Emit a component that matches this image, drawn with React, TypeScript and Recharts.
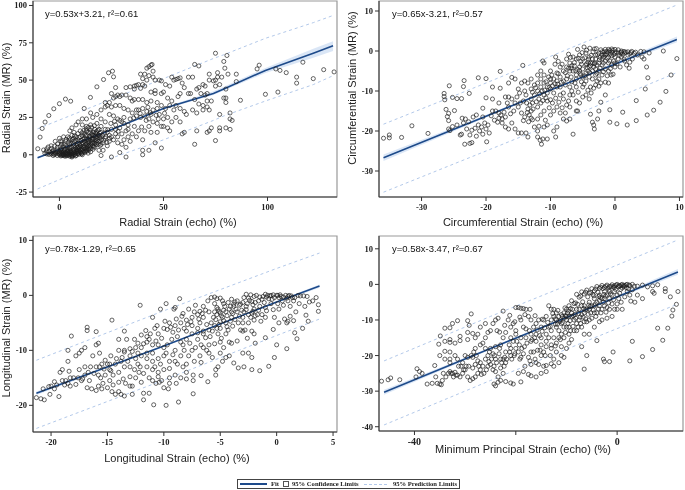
import { Area, ComposedChart, Line, ReferenceArea, Scatter, XAxis, YAxis } from "recharts";

type Pair = [number, number];

const radialPoints: Pair[] = [
  [-10.4,4],[-9.3,11.8],[-8.3,17.6],[-6.9,21.9],[-5.1,26.3],[-2.7,30.8],[0,34.2],[2.9,37.3],[5.4,35.9],[11.9,31],[14.9,38.4],[18,45.5],[21.2,50.4],[23.6,54.9],[25.5,56],[26,52.2],
  [32,45],[34,45.5],[36,46],[37,46.5],[38,47],[40,47],[41,46],[39,44.5],[36,44],[40,51],[39,54],[41,54],[43,53],[45,52],[42,58],[43,59],[44,60],[44.5,60.5],[45,56],[48,50],[49,49.5],[51,47],[53,46],[54,52],[55,50],[56,50.5],[57,51],[58,51.5],[46,50],[42,50],
  [27,45],[28,40],[30,40],[32,40],[34,38],[36,37],[38,37],[40,37],[25,41],[26,38],[27,39],[29,39],[22,35],[23,33],[24,35],[20,30],[22,32],[25,32],[27,33],[29,33],[31,31],[33,30],[35,28],[37,30],[35,36],[42,35],[44,42],[46,43],[46,41],[49,41],[50,42],[44,36],[47,35],
  [65,60.5],[67,59.5],[75,68],[80.5,66.5],[79,62.5],[79.5,58],[72,54],[76,55],[76,52],[78,52],[81,54],[85,54],[85,49],[75,50],[74,49.5],[72,50],[69,47],[70,46],[67,45],[64,52],[62,52],[59,48],[60,45],[58,41],[57,39],[63,41],[62,41],[66,44],[71,41],[68,41],[70,40],[75,46],[77,47],[80,44],[79,38],[80,38],[80,35],[87,36.5],[82,28],[82,24],[83,23],[80,18],[82,17],[77,18],[77,16],[75,9.5],[73,18],[72,16],[71,15],[65,7],[66,16],[60,15],[59,14],[53,16],[52,18],[50,19],[49,4.5],[47,15],[46,8],[43,3],[40,3],[40,0],[32,5],[32,-1.5],[29,1.5],[25,-1.5],[20,-0.5],
  [95,57.5],[96,60],[104,57.5],[106,56.5],[109,55],[117,62],[114,52],[114,48],[122,51],[127,57],[132,55.5],[99,40.5],[105,42],
  [73,36],[71,36],[69,33],[67,34],[65,37],[64,30],[66,28],[69,30],[71,32],[72,30],[77,27],[61,27],[60,29],[58,31],[56,33],[54,36],[52,38],[53,33],[55,30],[51,31],[49,33],[47,31],[48,27],[50,24],[52,25],[54,22],[56,25],[58,22],[45,30],[44,27],[42,29],[40,31],[38,30],[37,26],[39,25],[41,26],[43,24],[45,22],[47,21],[49,19],[43,19],[41,16],[44,15],[40,10],[37,12],[35,14],[33,12],[31,10],[34,9],[30,7],[36,19],[33,20],[30,22],[28,24],[26,26],[24,27],[22,22],[20,24],[18,27],[16,25],[15,28],[13,24],[11,24],
  [34,24],[31,25],[29,18],[27,20],[25,17],[27,14],[24,13],[22,17],[20,19],[18,21],[17,17],[15,20],[13,19],[11,20],[9,22],[8,20],[6,18],[5,16],[7,15],[10,16],[12,14],[14,15],[16,13],[18,14],[20,12],[22,11],[24,9],[26,10],[28,8],[23,6],[20,7],[18,8],[16,9],[14,10],[12,11],[10,12],[8,12],[6,13],[4,12],[2,12],[0,11],[-2,9],[-4,6],[-6,4],[-5,2],[-3,3],[-1,5],[1,7],[3,9],[5,10],[7,9],[9,8],[11,8],[13,7],[15,6],[17,5],[19,3],[21,3],[15,2],[13,3],[11,4],[9,5],[7,6],[5,7],[3,6],[1,4],[-1,2],[-3,1],[-7,1],[-6,0.5],[-5,0.2],[-4,0.5],[-3,-0.5],[-2,0.5],[-1,-0.5],[0,0],[1,0.5],[2,-0.5],[3,0],[4,0.5],[5,-1],[6,-1.5],[7,0],[8,1],[9,1],[10,2],[11,0],[6,2],[4,2.5],[2,2.5],[0,2],[-2,2],[3,1.5],[5,4],[7,3],[9,3],[12,6],[14,4],[16,6],[17,10],[19,9],[21,8],[15,12],[13,13],[11,13],[9,10],[7,11],[5,5],[3,4],[1,2],[12,9],[10,6],[8,4],[6,5],[14,8],[18,11],[16,11],[20,15],[15,15],[13,16],[19,17],[23,15],[25,12],[28,12],[30,14],[32,16],[38,16],
];
const radialDense: Pair[] = [
  [-4.2,1.3],[-3.4,2.2],[-2.6,0.2],[-1.8,1.1],[-1.2,3.2],[-0.6,0.9],[0.3,1.2],[0.7,-0.8],[1.3,1.6],[1.8,0.3],[2.4,3.4],[2.7,-1],[3.3,0.7],[3.7,2.6],[4.3,-0.4],[4.6,1.5],[5.2,0.4],[5.5,2.9],[5.9,-0.6],[6.4,0.8],[6.8,3.6],[7.3,1.4],[7.7,-0.8],[8.3,2.1],[8.7,4.6],[9.3,0.3],[9.6,2.7],[10.2,3.6],[10.7,1],[11.2,5.2],[11.6,2.5],[12.3,3.9],[12.7,7.4],[13.3,5.2],[13.8,1.1],[14.3,6.2],[14.7,9.2],[15.3,7.4],[15.7,10.3],[16.2,3.7],[16.6,8.1],[17.2,12.3],[17.7,6.8],[18.2,9.6],[18.7,13.1],[19.3,11.2],[19.6,6.2],[20.2,10.1],[20.7,13.2],[21.3,9.7],[21.7,14.4],[22.3,12.1],[22.8,8.2],[23.2,16.8],[24.1,11],[0.4,5.4],[1.2,8.6],[1.7,5.3],[2.3,7.2],[3.2,10.3],[3.8,5.1],[4.4,8.4],[4.8,11.3],[5.6,7.9],[6.2,10.2],[6.7,7.3],[7.2,12.6],[7.8,9.6],[8.4,6.2],[8.9,14.2],[9.4,11.4],[9.8,7.1],[10.4,9.6],[10.9,14.8],[11.4,10.2],[11.8,16.4],[12.4,12.7],[12.9,17.4],[13.5,10.3],[13.9,18.3],[14.4,12.4],[14.8,16.6],[15.5,18.4],[16.3,15.2],[16.8,19.5],[17.4,14.4],[18.4,16.3],[19.4,14.4],[0.8,3.4],[1.5,-0.2],[2.1,1.4],[3.5,-0.7],[4.1,3.7],[4.9,2.2],[5.8,1.1],[6.6,-0.2],[7.5,4.8],[8.1,-0.4],[9.1,2],[10.6,0.5],[12.1,1.5],[13.1,2.3],[14.1,3],[-3.8,4.2],[-2.2,5.8],[-0.9,7.3],[0.6,9.3],[-6.3,2.4],[-7.6,3.2],[-5.4,5.2],[31,21],[29,23],[27,17],[33,17],[24.7,21],[26.5,22.4],[28.2,15.7],[35.7,24.6],[39.5,18.6],[41.7,23],[42.5,31.8],[46.5,26.4],[47.5,24],[50.5,27.8],[43.6,28.2],[38.8,27.7],
  [0.2,0.6],[1,-0.4],[1.6,0.8],[2.2,-0.1],[2.9,1],[3.4,-0.2],[4,1.2],[4.7,0.2],[5.3,1.8],[5.7,0.2],[6.1,-0.9],[6.9,1.9],[7.4,0.3],[8.2,3.1],[8.8,0.9],[9.5,4.2],[10.1,1.3],[10.8,3.2],[11.3,1.8],[11.9,4.6],[12.5,2.4],[13.2,4.1],[13.7,6.1],[14.5,5],[15.1,4.1],[15.8,7.9],[16.4,5.2],[17,7.6],[17.6,9.2],[18.1,12.4],[18.8,7.1],[19.2,12.8],[8.5,7.4],[9.9,5.1],[10.9,6.9],[11.7,7.6],[12.8,10.6],[13.6,8.8],[14.6,11.1],[15.6,13.7],[16.7,12.9],[17.8,15.6],
];
const radialFit = [
  { x: -10.5, fit: -2, band: [-2.6, -1.4], upper: 17.4, lower: -22.9 },
  { x: 21, fit: 14.5, band: [14, 15], upper: 35, lower: -4.2 },
  { x: 50, fit: 31, band: [30.3, 31.7], upper: 51, lower: 10 },
  { x: 74, fit: 41, band: [40, 42.5], upper: 64.5, lower: 23 },
  { x: 79, fit: 44, band: [43, 45.5], upper: 67, lower: 26 },
  { x: 99, fit: 56.5, band: [54.8, 58.2], upper: 78, lower: 36 },
  { x: 122, fit: 68, band: [65, 71], upper: 88.5, lower: 47 },
  { x: 131.5, fit: 73, band: [69.5, 76], upper: 93.3, lower: 53 },
];

const circPoints: Pair[] = [
  [-35.9,-21.8],[-35,-21],[-35,-21.7],[-33.1,-21.6],[-31.5,-18.7],[-29,-20.6],[-26.5,-10.6],[-26.5,-11.4],[-26.4,-12.2],[-25.7,-8.7],[-25.2,-11.6],[-24.5,-11.9],[-23.8,-11.9],[-23.4,-7.4],[-23.5,-8.9],[-22.6,-10.6],[-21.2,-6.7],[-20,-6.9],[-19,-9],[-17.8,-9.3],[-17.8,-5.1],[-14.3,-3.6],[-16,-6.6],[-16.5,-8],[-26.2,-14.6],[-25.8,-15.6],[-26,-16.4],[-24.9,-14.9],[-25.8,-17.4],[-25.8,-19.5],[-25.6,-19.9],[-25.2,-18.9],[-24.5,-18.5],[-24,-21],[-23.8,-20.8],[-23.3,-23.3],[-22.5,-23.1],[-22.2,-22.9],[-19.9,-22.7],[-23,-19.5],[-22.5,-21],[-21.5,-21.3],[-21,-20],[-20.5,-20.8],[-20,-19.5],[-19.5,-20.5],[-23.7,-16.8],[-23.5,-18],[-22,-16.5],[-21.5,-16],[-20.5,-16.5],[-20,-11.7],[-20.5,-14.3],[-19,-15],[-18.5,-15],[-18,-13],[-17,-11.5],[-16.5,-11.5],[-16,-12],[-15,-9.5],[-14.5,-8],[-15.5,-7],[-14,-7.5],[-13,-7],[-18,-16.8],[-17.5,-17],[-17,-16.5],[-17.5,-18],[-17,-19],[-16.5,-19.5],[-16,-18],[-15.5,-19.5],[-15,-20.5],[-14.5,-20.5],[-13.5,-21.5],[-13.8,-20.5],[-12.5,-19],[-12,-20],[-11.6,-22.3],[-11.4,-23.3],[-11.2,-22],[-10.5,-22],[-12,-21.5],[-11,-19],[-10.5,-18.5],[-9.2,-21.5],[-9,-19],[-9.5,-20],[-10,-16],[-9.5,-15],[-8.5,-15.5],[-9,-14],[-8,-17],[-7.5,-17.5],[-7,-17],
  [-19,-12],[-18,-15.5],[-16.5,-14],[-15.5,-13],[-15,-14],[-14.5,-15.5],[-14,-16.5],[-13.5,-14.5],[-13,-15],[-13.3,-16],[-12.8,-13],[-13,-12],[-13.8,-11],[-14.8,-10.5],[-14,-10],[-12.5,-11],[-12,-10],[-12,-14],[-11.5,-13],[-11,-15],[-11.5,-16],[-12,-17],[-10.5,-12.5],[-10,-12.2],[-9.5,-10.5],[-10,-9.5],[-10.5,-9],[-11,-8],[-11.5,-7],[-12,-6],[-11,-6],[-11.5,-5],[-11,-3],[-11.2,-2.5],[-10,-5],[-9,-5.5],[-9,-7.5],[-8.5,-9],[-8,-10.5],[-8,-12],[-7.5,-13.5],[-8.5,-11],[-7,-14],[-7,-11],[-7,-9],[-7.5,-7],[-8,-5],[-8.5,-4],[-9.2,-1.5],[-7.5,-2],[-7,-3],[-6.5,-5],[-6,-7],[-6,-9],[-6.5,-11],[-6,-12.5],[-5.8,-15],[-6,-15],[-5.5,-13],[-5,-11.5],[-5,-9],[-5.3,-6],[-5.5,-4],[-6,-2],[-6.5,-1.5],[-5.8,0.4],[-5.5,-1],[-5,-2],[-4.8,1],[-4.5,-0.5],[-4.5,-3.5],[-4.5,-5.5],[-4.5,-7.5],[-4.5,-11],[-4,-12],[-3.8,-9],[-4,-6.5],[-4,-4],[-4,-1.5],[-4.4,0.2],[-3.5,-5],[-3.5,-3],[-3.5,-7],[-3,-8.5],[-3,-6],[-3,-4.5],[-3,-2],[-3.2,0.5],[-2.5,-0.5],[-2.5,-3],[-2.5,-5],[-2.5,-7],[-2.5,-8.8],[-6.5,-20.8],[-3.8,-15.8],[-3.5,-17.8],[-3.3,-18.5],[-3.2,-19.5],[-2.7,-17],[-2.5,-15],[-2.2,-12.8],[-1.5,-11],[-1,-8],[-0.8,-14.7],[-0.8,-17.8],[0.3,-18.2],[1.2,-15.3],[1.9,-18.5],[3.3,-17.4],[3.3,-12.4],[4.7,-9.5],[5,-16],[5.1,-6.7],[6,-14.8],[7,-12.8],[7.9,-10.1],[8.7,-6],[9.6,-1.9],[7.5,0],[5.3,-0.5],[4.9,-4],[4.2,-1.5],[4.5,-2],
  [-2,-1],[-2,-3.5],[-2,-6],[-2,-0.2],[-1.5,0.4],[-1.5,-1],[-1.5,-2.5],[-1.5,-4.5],[-1.5,-7.8],[-1,-0.3],[-1,0.4],[-1,-1.5],[-1,-3],[-1,-5],[-0.6,-6],[-0.5,0.5],[-0.5,-0.3],[-0.5,-1.2],[-0.5,-3.5],[-0.3,-5.8],[0,0.4],[0,-0.5],[0,-1.5],[0,-3],[0,-4],[0.5,0.3],[0.5,-0.5],[0.5,-2],[0.8,-4],[1,-0.3],[1,0],[1,-1.5],[1.5,-0.5],[1.5,-2.5],[1.8,-3.5],[2,-0.2],[2,-1],[2.2,-4.3],[2.5,-0.4],[2.7,-2],[3,-0.6],[3.5,-1],[4,-0.1],[4.5,-0.2],
  [-7,-5],[-6.8,-6.5],[-6,-6],[-5.5,-5],[-5,-6.5],[-5,-4.5],[-4.2,-5],[-3.8,-3],[-3.5,-2],[-3,-1],[-7.5,-4],[-8,-7.5],[-8.5,-6.5],[-9,-9],[-9.5,-7],[-10,-8],[-10.5,-10.5],[-11,-11],[-11.5,-9],[-12.5,-8.5],[-13,-9.5],[-13.5,-8],[-12,-8],[-10,-7],[-2,-2],[-1.8,-1.5],[-1.2,-1.8],[-0.8,-2.5],[-2.8,-3.5],[-3.2,-3.2],[-4.2,-2.8],
];
const circDense: Pair[] = [
  [-6.3,-3.7],[-5.8,-4.6],[-5.2,-3.3],[-4.7,-6.2],[-4.3,-4.2],[-3.9,-5.4],[-3.3,-4],[-2.8,-5.6],[-2.3,-4.3],[-1.8,-3],[-1.3,-0.7],[-0.8,0.1],[-0.3,0.2],[0.2,-0.2],[0.7,-1.1],[1.2,-0.8],[1.7,-0.3],[2.3,-0.7],[-1.7,-0.2],[-2.3,-1.6],[-2.7,-0.9],[-3.4,-0.2],[-3.7,-1.1],[-4.1,-2.1],[-4.7,-1.7],[-5.3,-2.6],[-5.7,-1.8],[-6.3,-2.9],[-6.7,-3.7],[-7.2,-4.3],[-7.7,-5.4],[-8.2,-3.3],[-8.8,-5.7],[-9.3,-8.2],[-9.8,-6],[-10.3,-6.5],[-10.7,-7.7],[-11.3,-10],[-11.8,-12],[-12.2,-12.7],[-12.7,-14.5],[-13.2,-13.5],[-13.7,-13],[-14.2,-12.5],[-14.7,-13],[-15.2,-11.5],[-15.7,-15],[-16.2,-15.7],[-16.7,-13],[-17.2,-15.3],[-17.7,-16],[-18.2,-17.8],[-18.7,-17.3],[-19.2,-16.2],[-19.7,-18.5],[-20.2,-18],[-20.7,-19],[-21.2,-18.5],[-21.7,-19.3],[-22.2,-19.8],[-22.7,-17.7],[-23.2,-17],[-13,-16.8],[-13.4,-17.7],[-12.8,-17.2],[-13.6,-15.4],[-14.2,-17.4],[-11.8,-18.8],[-10.8,-17.3],[-10.2,-14.2],[-9.7,-13],[-9.2,-11.8],[-8.7,-12.8],[-8.2,-14.2],[-7.7,-15.5],[-7.2,-12.5],[-6.7,-10],[-6.2,-8],[-5.7,-10.3],[-5.2,-7.7],[-4.8,-8.3],[-4.2,-9.8],[-3.7,-10.5],[-3.3,-9.3],[-2.8,-7.5],[-2.2,-8],[-1.8,-5.2],[-1.2,-6.2],[-0.7,-4.4],[-0.2,-2.5],[0.3,-3.2],[1.4,-2],[2.3,-2.8],[-6.7,-7.7],[-7.7,-8.5],[-8.3,-7.8],[-9.7,-8.7],[-10.7,-11.7],[-11.2,-12.4],[-11.7,-10.7],[-12.3,-9.2],[-12.8,-10.3],[-9.3,-3.3],[-8.8,-2.6],[-7.2,-0.8],[-6.9,-1.6],[-5.1,-0.4],[-3.9,0.7],[-2.9,0.6],[-2.2,0.3],[-1.3,-0.1],[-0.2,-0.9],[0.9,-0.5],[1.4,-0.1],[2.6,-0.1],[3.2,-0.3],[-0.7,-0.8],[-1.7,-0.8],[-2.4,-2.2],[-3.1,-3],[-3.8,-3.7],[-4.4,-3.2],[-5.4,-5.6],[-6.1,-4.9],[-6.8,-4.3],[-7.4,-6.2],[-8.9,-8.3],[-10.2,-9.1],[-10.9,-9.8],
];
const circFit = [
  { x: -35.9, fit: -26.7, band: [-27.5, -25.9], upper: -18.3, lower: -35.3 },
  { x: -20, fit: -16.3, band: [-16.6, -16], upper: -8, lower: -25 },
  { x: -5, fit: -6.5, band: [-6.7, -6.3], upper: 2, lower: -15.2 },
  { x: 9.6, fit: 2.9, band: [2.2, 3.6], upper: 11.5, lower: -5.4 },
];

const longPoints: Pair[] = [
  [-21.3,-18.6],[-20.9,-18.8],[-20.6,-19],[-20.7,-17],[-20.2,-16.6],[-20.1,-18],[-19.7,-17],[-19.5,-16.3],[-19.3,-18.4],[-19.2,-14],[-19,-13.5],[-18.7,-15.5],[-18.5,-16],[-18.3,-16.5],[-18,-15],[-18.5,-12],[-18.5,-10],[-18.4,-13.8],[-17.8,-11],[-17.3,-10],[-17.5,-10.5],[-17,-9.5],[-16.8,-5.8],[-16.8,-6.4],[-16,-6.6],[-18.2,-7.4],[-17.5,-13.5],[-17,-13],[-17,-14.5],[-16.5,-13],[-16.3,-11],[-15.7,-10.5],[-15.8,-8.7],[-16,-9],[-16,-13],[-15.8,-14.5],[-15.8,-16.5],[-16,-17.3],[-15.5,-17],[-15,-16.8],[-14.8,-13.5],[-14.5,-16.3],[-14,-15.8],[-14,-17.5],[-14.3,-18],[-13.8,-18],[-13.5,-18.3],[-13.4,-16],[-13,-14.8],[-13,-16.5],[-12.8,-16.5],[-12.8,-18],[-12.5,-15],[-12.2,-14],[-11.8,-14.2],[-12,-15.8],[-11.8,-17.8],[-11.8,-19],[-11.3,-17.8],[-10.9,-19.9],[-9.8,-20],[-8.7,-19.4],[-10.4,-15.8],[-10.2,-15.5],[-10.7,-16],[-11,-15.5],[-9.5,-16],[-9.5,-15],[-9,-14.5],[-8.5,-15],[-8,-14],[-8,-15.2],[-7.4,-17.9],[-7.4,-14.5],[-7.4,-15.5],[-6.7,-14.6],[-6.1,-15.7],[-5.4,-14.5],[-5.4,-13.5],[-5.2,-13],[-4.8,-12],[-3.8,-12.3],[-3.4,-13.2],[-2.2,-13.5],[-1.5,-13.7],[-0.7,-12.9],[-0.2,-11.3],[0.9,-9.7],[-2.9,-13],[-2.2,-11.3],[-3,-10.5],[-2.5,-10.5],[-5,-10.5],[-4.5,-11.3],[-4.2,-11],[0,-9],[-0.3,-6.2],[-1,-7.7],[-1.9,-8.7],[-2,-7],[-2.2,-6.5],[0.9,-5],[1.8,-7.9],[1.6,-6.8],[2.3,-6],[2.6,-3.6],[2.8,-4.7],[3.7,-1.7],[3.7,-2.9],[3.5,-0.4],[3.2,-1],[2.9,-1.2],[2.5,-2],[1.7,-3],[1.5,-4.6],[1.2,-3.8],[1,-4.7],[0.7,-4.3],[0.2,-5],[-0.2,-4],
  [-14.6,-4.5],[-12.1,-1.8],[-10.3,-2.5],[-9.8,-1.5],[-9.1,-2.5],[-9,-2.2],[-8.6,-0.6],[-8.3,-3.3],[-11,-4],[-13.5,-6.5],[-14,-8],[-13.3,-8],[-12.6,-8],[-12,-7.2],[-11.5,-7.5],[-11.2,-7],[-10.8,-6],[-10.5,-7],[-10,-6],[-9.5,-5],[-9,-5.5],[-8.5,-5],[-8,-4.5],[-7.5,-4],[-7,-3.5],[-6.5,-2],[-6.1,-1],[-5.8,-0.4],[-5.5,-0.3],[-5,-0.5],[-4.7,-1.5],[-4,-0.7],[-3.5,-1],[-3,-1.3],[-2.5,-0.5],[-2,-0.2],[-1.5,-0.3],[-1,0.2],[-0.6,-0.1],[0,0],[0.4,-0.2],[0.8,0],[1.3,-0.1],[1.9,0],[2.4,-0.1],[2.7,-0.2],[-0.8,0],[-0.3,0.1],[0.1,0],[-1.2,-0.2],[-1.8,0],[-2.3,0.1],[-2.7,0.2],[-2.4,-0.9],[-1.9,-1.3],[-1.5,-2],[-1,-2.2],[-0.5,-1.5],[0.1,-1.5],[0.5,-1],[1,-1],[1.5,-1],[2,-1.5],
  [-14.7,-11],[-14,-10],[-13.5,-10.3],[-13,-11],[-12.5,-11.5],[-12,-11],[-11.5,-11.5],[-11,-12],[-10.5,-11.5],[-10,-11],[-9.5,-12],[-9,-12],[-8.5,-11],[-8,-12.5],[-7.8,-11],[-7.5,-10],[-7.2,-9.5],[-6.8,-11],[-6.5,-9.5],[-6,-9],[-6,-10.5],[-5.5,-8.8],[-5,-8.5],[-4.7,-9.5],[-13,-13],[-12.3,-12.5],[-11.5,-13],[-11,-13.5],[-10,-13.5],[-9.5,-13.3],[-10.5,-14],[-14.7,-13.7],[-15,-12.5],[-15.5,-12.5],[-15.2,-11.8],[-14.3,-12.5],[-13.8,-12],[-9.7,-9],[-9.3,-8],[-8.8,-7.5],[-8.3,-9],[-8,-8],[-7.5,-7],[-7,-6.8],[-6.5,-7],[-6,-6.3],[-5.5,-5.5],[-5,-6],[-5,-4.8],[-4.5,-5],[-4.5,-3],[-4.2,-2.5],[-4,-4],[-3.8,-2],[-3.5,-3],[-3,-4],[-3,-5],[-2.5,-3.5],[-2.5,-5],[-2,-4.5],[-2,-2.5],[-1.7,-3.5],[-1.3,-3.5],[-5.5,-3],[-5.3,-3.5],[-5,-3.2],[-4.8,-4],[-5.6,-4],[-6,-3],[-6.5,-4],[-6.8,-5],[-7.5,-5.5],[-8,-6.5],[-7,-6],[-5.5,-1.5],[-5.2,-2.5],[-4.6,-2],[-4,-3],[-3.6,-2.5],[-1,-4],[-2.8,-6.3],[-3.2,-6.3],[-3.5,-8.3],[-4.2,-8.5],[-4.5,-7],[-5.2,-7],[-6.5,-6.5],[-7,-8],[-8.5,-8.5],[-9,-10],[-10,-9.5],[-10.5,-9],[-11,-9],[-11.5,-10.5],[-12,-9.5],[-12.5,-9.5],[-13,-9.7],[-13.5,-10],[-11.5,-8.5],[-11,-10.5],
  [-20,-16.5],[-19,-15.5],[-18.3,-15],[-17.6,-15],[-17.2,-15.2],[-16.8,-16.8],[-16.4,-17],[-15.6,-15],[-15.2,-14.5],[-14.8,-15.5],[-14.5,-14.5],[-14,-14],[-13.5,-13],
];
const longDense: Pair[] = [
  [-5.3,-2.2],[-5.1,-2.9],[-4.9,-3.7],[-4.7,-2.7],[-4.4,-3.7],[-4.1,-2],[-3.9,-3.3],[-3.7,-1.2],[-3.3,-1.8],[-3.1,-2.7],[-2.9,-0.4],[-2.6,-1.5],[-2.2,-1.1],[-2.1,-2.9],[-1.6,-1],[-1.3,-0.7],[-1.1,-1.3],[-0.9,-0.3],[-0.7,-0.6],[-0.5,0],[-0.2,-0.4],[0.2,-0.4],[0.3,0.1],[0.6,-0.3],[1,-0.2],[1.1,0],[1.6,-0.4],[1.2,-2],[0.6,-1.8],[-0.3,-2.6],[-0.9,-2.8],[-1.4,-4.7],[-1.9,-3.7],[-2.3,-4],[-2.7,-2.6],[-3.3,-3.8],[-3.7,-4.4],[-4.1,-4.7],[-4.4,-5.7],[-4.7,-4.6],[-5.1,-5.3],[-5.4,-4.4],[-5.8,-5],[-6.2,-5.3],[-6.6,-3.3],[-6.9,-4.3],[-7.3,-3],[-7.6,-4.8],[-7.9,-5.3],[-8.2,-6],[-8.7,-6.3],[-9.2,-6.7],[-9.7,-6.2],[-10.2,-7.8],[-10.7,-8.3],[-11.3,-8],[-11.8,-8.8],[-12.3,-10.5],[-12.8,-10.2],[-13.2,-12],[-13.7,-11.3],[-14.2,-11.5],[-14.8,-12.5],[-15.3,-13.4],[-15.7,-13],[-16.2,-14.2],[-16.7,-14],[-17.3,-15.5],[-17.8,-16.2],[-18.8,-16.3],[-19.7,-15.7],[-16.6,-15.5],[-15.4,-16],[-14.6,-17.5],[-13.6,-15.2],[-12.6,-13.5],[-12.1,-13],[-11.3,-15],[-10.8,-13],[-10.3,-12.5],[-9.8,-10.5],[-9.2,-10.8],[-8.8,-12.5],[-8.2,-10],[-7.7,-8.7],[-7.3,-12],[-6.7,-9],[-6.3,-7.7],[-5.9,-7.5],[-5.7,-6.5],[-5.3,-6],[-4.9,-7.8],[-4.3,-6.3],[-3.9,-5.6],[-3.4,-5],[-2.9,-3],[-2.2,-3.2],[-1.6,-2.7],[-2.1,-1.7],[-2.7,-2],[-3.2,-1.6],[-3.8,-1.6],[-4.3,-1.3],[-4.8,-1],[-5.3,-0.6],[-6.3,-2.7],[-6.8,-2.9],[-7.2,-1.8],[-7.8,-2.5],[-8.4,-3.8],[-8.9,-4.3],[-9.4,-5.8],[-9.9,-4.7],[-10.6,-5.5],[-11.6,-6.4],[-12.3,-8.7],[-9.6,-17],[-10,-16.8],[-10.5,-14.8],[-8.9,-16],[-8.3,-13],[-6.7,-12.2],[-6.2,-10],[-5.7,-11.3],[-4,-8.7],[-3,-6.5],[-2.6,-7.8],[0.2,-2.5],[-0.4,-0.7],[0.9,-0.5],[1.4,-0.4],[2.1,-0.1],
];
const longFit = [
  { x: -21.3, fit: -17.8, band: [-18.1, -17.5], upper: -11.8, lower: -24.2 },
  { x: -10, fit: -9.2, band: [-9.35, -9.05], upper: -2.8, lower: -15.4 },
  { x: 0, fit: -1.2, band: [-1.35, -1.05], upper: 4.9, lower: -7.3 },
  { x: 3.8, fit: 1.7, band: [1.4, 2], upper: 7.7, lower: -4.3 },
];

const minPoints: Pair[] = [
  [-46.5,-27.2],[-45.2,-26.8],[-44.7,-26.3],[-42.9,-26.8],[-39.5,-23.7],[-39,-24.5],[-38.5,-25],[-39.7,-26],[-36,-22.8],[-37.5,-28],[-36.5,-27.8],[-35.5,-27.8],[-35,-28],[-34.7,-28.2],[-34.5,-27],[-35.8,-26],[-35,-20],[-35.2,-16.8],[-34.9,-14.5],[-34,-12.3],[-33,-12.2],[-34,-16],[-33,-15.5],[-33,-16.3],[-32,-16.5],[-32.5,-11],[-31.5,-10.2],[-29.5,-10.2],[-29.2,-11.5],[-28.8,-8.3],[-28.5,-13.8],[-29.5,-13.5],[-28,-15],[-29.5,-15.5],[-31,-14.6],[-31,-15.8],[-34,-18.8],[-33,-19],[-34,-21],[-33,-21],[-33,-22],[-32,-20],[-31.5,-21],[-30.5,-22],[-30,-20],[-29.5,-20.5],[-28.5,-20.5],[-28,-18],[-27,-17],[-26.5,-16.5],[-26,-15],[-25,-13],[-24.5,-11],[-24,-10],[-23.5,-9.5],[-22.5,-7.5],[-26,-11],[-25.5,-13.5],[-27,-12],[-27.5,-14],
  [-33,-24.5],[-32.5,-25],[-32,-24.7],[-31.5,-25.5],[-31,-26],[-30.5,-25],[-30,-24],[-29.5,-26],[-29,-27],[-28.5,-26.5],[-28,-26],[-27.5,-25],[-27,-24],[-26.5,-23],[-25.5,-23],[-25,-22.5],[-24.5,-24],[-24,-24.5],[-23.5,-26],[-23,-27],[-22.5,-25],[-22,-27.3],[-21,-27.7],[-20.5,-28],[-19.5,-25],[-19,-27.4],[-18.5,-24.5],[-17.5,-25.3],[-17,-25.7],[-15,-25],[-15.5,-22.5],[-16,-22],[-14.5,-23],[-14,-22.8],[-13,-22.3],[-12.5,-21],[-10.5,-20.5],[-10,-18],[-11,-17.5],[-12,-19],[-13,-18],[-14,-17.5],[-14.5,-19],[-15,-20],[-15.7,-18.5],[-16.5,-19],[-17,-19],[-17.5,-20.5],[-18.5,-19.5],[-19,-20.5],[-19.5,-19],[-20,-18],[-21,-18],[-22,-19],[-22.5,-21],[-23,-21],[-24,-21],[-24.5,-19.5],[-25.5,-20],[-26,-21],[-27,-22],[-27.5,-21.5],[-28,-22.5],[-28.5,-23.5],[-23,-23.5],[-24,-28.5],[-24.3,-28],[-23.5,-27.5],
  [-26,-18],[-25,-18],[-24,-17.5],[-23,-17],[-22.5,-15],[-22,-13.5],[-21,-12],[-20,-13],[-20.5,-11],[-21.5,-10],[-20,-6.5],[-19.5,-6.5],[-19,-6.7],[-18.5,-6.8],[-18,-7],[-17.5,-9],[-17,-10],[-16.5,-12],[-16,-11],[-15.5,-10],[-15,-12],[-14.5,-10],[-14,-9],[-13.5,-6],[-13,-7],[-12.5,-7],[-12,-8],[-11.5,-9],[-11,-8.5],[-10.5,-8],[-10,-7],[-9.5,-6],[-9,-4.6],[-8.5,-5.4],[-8,-2.8],[-7.5,-3.6],[-7,-2.1],[-6.5,-2.7],[-6,-1.6],[-5.5,-2.4],[-5,-1.2],[-4.5,-1.8],[-4,-0.6],[-3.5,-1.1],[-3,-0.3],[-2.5,-0.8],[-2,-0.2],[-1.5,-0.6],[-1,-0.1],[-0.5,-0.4],[0,0],[0.5,-0.5],[1,0],[1.5,-0.3],[2,0],[2.5,-0.4],[3,0],[4,-0.5],[5,-0.2],[6,-0.7],[7,-0.4],[8,-0.1],
  [-20,-14],[-19,-15],[-18,-12.5],[-17,-14],[-16,-14],[-15,-15],[-14,-14],[-13.5,-12],[-13,-13],[-12,-12],[-11.5,-13],[-11,-11],[-10.5,-12],[-10,-10],[-9.5,-12],[-9,-8],[-8.5,-10],[-8,-11],[-7.5,-7],[-7,-8.5],[-6.5,-6],[-6,-7],[-5.5,-5],[-5,-6],[-4.5,-4],[-4,-5],[-3.5,-3],[-3,-4],[-2.5,-2],[-2,-3],[-1.5,-2],[-1,-3],[-0.5,-2],[0,-3],[0.5,-2.5],[1,-1],[2,-2],[2.5,-3],[3,-1.5],[4,-3],[5,-4],[3.5,-5],[2.7,-4.7],[1.5,-3.5],[0.8,-5],[0,-5.5],[-0.5,-7],[-1,-5.5],[-1.5,-7],[-2,-6.5],[-2.5,-6],[-3,-7],[-3.5,-6],[-4,-8],[-4.5,-8],[-5,-9.5],[-5.5,-10],[-6,-10.5],[-6.5,-10.5],[-7,-12],[-7.5,-10],[-8,-13],[-8.5,-13],[-9,-9],[-9.5,-14],[-10,-12],[-10.5,-15],[-11,-14],[-11.5,-15],[-12,-16.5],[-12.5,-15],[-13,-17],[-13.5,-15],[-14,-16],[-15,-17],[-16,-16],[-17,-16],[-18,-15],[-18.5,-12],[-19,-10],[-8,-7],[-7,-6],[-6.5,-8],[-5.5,-7],[-4.5,-6],[-3.5,-4.5],[-2.5,-4],[-1.5,-4],[-12,-10],[-12.5,-9],[-10,-9],[-9.5,-9],[-13,-10],
  [-23.7,-13],[-21,-15],[-20.5,-16],[-21,-20],[-22,-22],[-17,-22.5],[-16,-26],[-14,-24.5],[-9,-15.5],[-9.5,-16.5],[-11,-20],[-11.5,-22],[-12.5,-23],[-6.5,-14],[-5.5,-14],[-4.5,-12],[-3.5,-10.5],[-3,-10],[-2,-9.5],[-1,-9],[0,-7],[1,-7],[-6.5,-23.8],[-7,-17.5],[-6,-20],[-4,-15.8],[-2.7,-21],[-2.5,-21.7],[-1.5,-21.7],[-0.8,-19],[2.5,-21.5],[3,-16],[5,-20.3],[7,-18.3],[8,-12.3],[9,-15.7],[10,-12.3],[10.8,-8.9],[11,-7.2],[11.7,-5.6],[12,-2],[10.5,-3.5],[9.5,-1.2],[9.5,-2],[7.3,-2.5],[7,-2],
];
const minDense: Pair[] = [
  [-12.7,-8.2],[-12.2,-9.7],[-11.7,-7.3],[-11.3,-10.4],[-10.8,-9],[-10.3,-6.6],[-9.8,-8.1],[-9.3,-10.2],[-8.8,-7],[-8.3,-8.4],[-7.8,-5.6],[-7.3,-9.2],[-6.8,-4.9],[-6.3,-7.2],[-5.8,-3.5],[-5.3,-6.2],[-4.8,-2.8],[-4.3,-5.5],[-3.8,-2.2],[-3.3,-3.7],[-2.8,-1.2],[-2.3,-3.3],[-1.8,-1],[-1.3,-2.7],[-0.8,-0.7],[-0.3,-1.4],[0.2,-0.7],[0.7,-1.4],[1.2,-0.4],[1.8,-0.9],[2.2,-1.2],[-10.8,-10.7],[-9.7,-11],[-8.7,-11.8],[-7.7,-12],[-6.7,-9.2],[-5.7,-8.4],[-4.7,-7.2],[-3.7,-6.9],[-2.7,-5],[-1.7,-5.2],[-0.7,-4.3],[0.3,-4],[-13.7,-10.7],[-14.3,-12.2],[-14.8,-13.2],[-15.3,-14.4],[-15.8,-12.8],[-16.3,-15],[-16.8,-15.5],[-17.3,-13],[-17.8,-16.5],[-18.3,-17.5],[-18.8,-18],[-19.3,-17],[-19.8,-16],[-20.3,-20],[-20.8,-21],[-21.3,-17],[-21.8,-21],[-22.3,-23],[-22.8,-22],[-23.3,-19.5],[-23.8,-22],[-24.3,-23],[-24.8,-21],[-25.3,-21.7],[-25.8,-24],[-26.3,-25],[-26.8,-25.3],[-27.3,-23],[-27.8,-20],[-28.3,-19],[-28.8,-20],[-29.3,-23],[-29.8,-23],[-30.3,-24],[-30.8,-23],[-31.3,-23],[-31.8,-25.5],[-32.3,-26],[-32.8,-25],[-33.3,-25],[-33.8,-26],[-34.3,-25],[-25.2,-19],[-24.2,-20],[-23.2,-18],[-22.2,-20.5],[-21.2,-19],[-20.2,-19.5],[-19.2,-21],[-18.2,-23],[-17.2,-21.5],[-16.2,-21],[-15.2,-18.5],[-14.2,-20],[-13.2,-20],[-12.2,-17.3],[-11.2,-15.5],[-10.2,-13.5],[-9.2,-13],[-8.2,-9.5],[-7.2,-11],[-6.2,-9.7],[-5.2,-8],[-4.2,-9],[-3.2,-8],[-2.2,-7.8],[-11.8,-11.2],[-10.4,-9.5],[-9.6,-7.5],[-8.6,-8.8],[-7.6,-8.2],[-6.6,-6.8],[-5.6,-5.8],[-4.6,-3.2],[-3.6,-3.4],[-2.6,-2.8],[-1.6,-1.6],[-0.6,-0.9],[0.4,-0.3],[1.4,-0.6],[2.4,-0.2],[3.4,-0.5],[-3.2,-0.8],[-2.2,-0.5],[-1.2,-0.5],[-0.2,-0.2],[0.8,-0.2],[1.8,-0.1],[-4.2,-1.3],[-5.2,-2.3],[-6.2,-2.2],[-7.2,-3.3],[-8.2,-5.2],[-9.2,-6.8],[-10.2,-8.8],[-11.2,-10],[-12.2,-11.2],[-13.2,-11.8],[-14.8,-9.8],[-16.2,-8.8],[-17.2,-7],[-18.2,-8.5],[-19.2,-9.2],[-20.2,-10.5],[-21.2,-8.7],[-22.2,-11.5],[-23.2,-13.4],
];
const minFit = [
  { x: -46, fit: -30.3, band: [-31, -29.6], upper: -21.5, lower: -39.5 },
  { x: -25, fit: -18, band: [-18.3, -17.7], upper: -9, lower: -27 },
  { x: -5, fit: -6.4, band: [-6.6, -6.2], upper: 2.5, lower: -15.3 },
  { x: 12, fit: 3.5, band: [2.7, 4.3], upper: 12.5, lower: -5.5 },
];

const serif = "'Liberation Serif', serif";
const sans = "'Liberation Sans', Arial, sans-serif";
const tickStyle = { fill: "#222", fontSize: 8.5, fontWeight: 700, fontFamily: serif };

function Ring(props: any) {
  return <circle cx={props.cx} cy={props.cy} r={2.05} fill="none" stroke="#1c1c1c" strokeOpacity={0.8} strokeWidth={0.85} />;
}

function Panel(p: any) {
  const points = p.points.map((d: Pair) => ({ x: d[0], y: d[1] }));
  return (
    <div style={{ position: "absolute", left: p.left, top: p.top }}>
      <ComposedChart
        width={p.plotLeft + p.plotWidth + 3}
        height={p.plotTop + p.plotHeight + p.below}
        data={p.fit}
        margin={{ top: p.plotTop, right: 3, left: 0, bottom: 0 }}
      >
        <XAxis
          dataKey="x"
          type="number"
          domain={p.xDomain}
          ticks={p.xTicks}
          allowDataOverflow
          tick={p.xTickStyle ?? tickStyle}
          tickSize={4}
          tickMargin={3}
          tickFormatter={(v: number) => (p.hiddenTicks?.includes(v) ? "" : String(v))}
          height={p.below}
          stroke="#333"
          label={{ value: p.xLabel, position: "insideBottom", offset: p.xLabelOffset, dx: p.xLabelDx, fill: "#222", fontSize: 11, fontFamily: sans }}
        />
        <YAxis
          type="number"
          domain={p.yDomain}
          ticks={p.yTicks}
          allowDataOverflow
          tick={tickStyle}
          tickSize={4}
          tickMargin={2}
          width={p.plotLeft}
          stroke="#333"
          label={p.yLabel ? { value: p.yLabel, angle: -90, position: "insideLeft", dx: 1, dy: p.yLabelDy, fill: "#222", fontSize: 11, fontFamily: sans, style: { textAnchor: "middle" } } : undefined}
        />
        <ReferenceArea x1={p.xDomain[0]} x2={p.xDomain[1]} y1={p.yDomain[0]} y2={p.yDomain[1]} fill="none" stroke="#999" strokeWidth={1.2} />
        <Area dataKey="band" stroke="none" fill="#d6e3f5" fillOpacity={0.9} type="linear" isAnimationActive={false} dot={false} activeDot={false} />
        <Line dataKey="upper" stroke="#b3c9ea" strokeWidth={1} strokeDasharray="3 3" dot={false} type="linear" isAnimationActive={false} />
        <Line dataKey="lower" stroke="#b3c9ea" strokeWidth={1} strokeDasharray="3 3" dot={false} type="linear" isAnimationActive={false} />
        <Line dataKey="fit" stroke="#1d4a8a" strokeWidth={1.6} dot={false} type="linear" isAnimationActive={false} />
        <Scatter data={points} dataKey="y" shape={Ring} isAnimationActive={false} />
      </ComposedChart>
      <div style={{ position: "absolute", left: p.noteX, top: p.noteY, fontFamily: sans, fontSize: 9.5, color: "#111", whiteSpace: "nowrap" }}>
        {p.note}
      </div>
    </div>
  );
}

function LegendBar() {
  const text = { fontFamily: serif, fontSize: 6.6, fontWeight: 700, color: "#222", position: "absolute", top: 0, lineHeight: "8px", whiteSpace: "nowrap" } as const;
  return (
    <div style={{ position: "absolute", left: 237, top: 479, width: 221, height: 8, border: "1px solid #444", background: "#fff" }}>
      <div style={{ position: "absolute", left: 2, top: 3, width: 27, height: 2, background: "#1d4a8a" }} />
      <span style={{ ...text, left: 33 }}>Fit</span>
      <div style={{ position: "absolute", left: 45, top: 1, width: 4, height: 4, border: "1px solid #555" }} />
      <span style={{ ...text, left: 54 }}>95% Confidence Limits</span>
      <div style={{ position: "absolute", left: 126, top: 4, width: 23, borderTop: "1px dashed #b3c9ea" }} />
      <span style={{ ...text, left: 155 }}>95% Prediction Limits</span>
    </div>
  );
}

export default function App() {
  return (
    <div style={{ position: "absolute", left: 0, top: 0, width: 685, height: 490, background: "#fff", overflow: "hidden", filter: "blur(0.35px)" }}>
      <Panel
        left={0} top={0} plotLeft={33} plotTop={1} plotWidth={304} plotHeight={196} below={36}
        xDomain={[-12.7, 133.4]} yDomain={[-28.3, 103]} xTicks={[0, 50, 100]} yTicks={[-25, 0, 25, 50, 75, 100]}
        points={[...radialPoints, ...radialDense]} fit={radialFit}
        xLabel="Radial Strain (echo) (%)" xLabelDx={-7} xLabelOffset={7}
        yLabel="Radial Strain (MR) (%)" yLabelDy={-1}
        note="y=0.53x+3.21, r²=0.61" noteX={45} noteY={8}
      />
      <Panel
        left={346} top={0} plotLeft={33} plotTop={1} plotWidth={304} plotHeight={196} below={36}
        xDomain={[-36.6, 10.55]} yDomain={[-36.5, 12.5]} xTicks={[-30, -20, -10, 0, 10]} yTicks={[-30, -20, -10, 0, 10]}
        points={[...circPoints, ...circDense]} fit={circFit}
        xLabel="Circumferential Strain (echo) (%)" xLabelDx={-8} xLabelOffset={7}
        yLabel="Circumferential Strain (MR) (%)" yLabelDy={-11}
        note="y=0.65x-3.21, r²=0.57" noteX={46} noteY={8}
      />
      <Panel
        left={0} top={235} plotLeft={33} plotTop={1} plotWidth={304} plotHeight={196} below={36}
        xDomain={[-21.6, 5.35]} yDomain={[-24.85, 10.8]} xTicks={[-20, -15, -10, -5, 0, 5]} yTicks={[-20, -10, 0, 10]}
        points={[...longPoints, ...longDense]} fit={longFit}
        xLabel="Longitudinal Strain (echo) (%)" xLabelDx={-8} xLabelOffset={6}
        yLabel="Longitudinal Strain (MR) (%)" yLabelDy={-6}
        note="y=0.78x-1.29, r²=0.65" noteX={45} noteY={8}
      />
      <Panel
        left={346} top={235} plotLeft={33} plotTop={1} plotWidth={304} plotHeight={195} below={32}
        xDomain={[-47, 13]} yDomain={[-41.2, 13.6]} xTicks={[-40, -20, 0]} yTicks={[-40, -30, -20, -10, 0, 10]}
        hiddenTicks={[-20]}
        xTickStyle={{ ...tickStyle, fontSize: 10 }}
        points={[...minPoints, ...minDense]} fit={minFit}
        xLabel="Minimum Principal Strain (echo) (%)" xLabelDx={-8} xLabelOffset={10}
        note="y=0.58x-3.47, r²=0.67" noteX={46} noteY={8}
      />
      <LegendBar />
    </div>
  );
}
